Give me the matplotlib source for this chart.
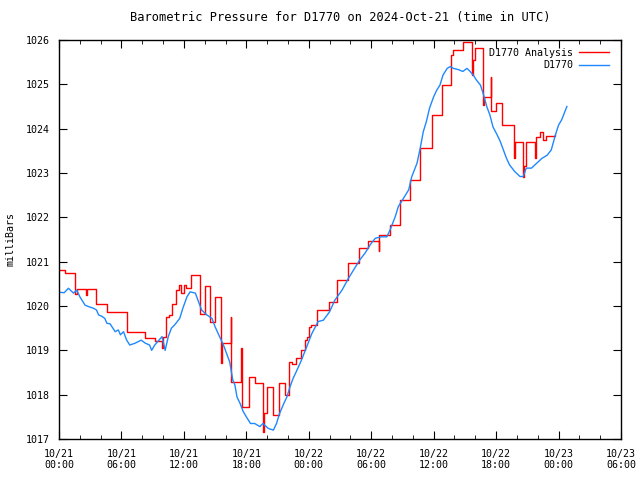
import matplotlib
matplotlib.use("Agg")
import matplotlib.pyplot as plt
import matplotlib.dates as mdates
import pandas as pd

start = pd.Timestamp("2024-10-21 00:00")

# observed station pressure (hours after start, mb)
obs_hours = [0.0, 0.5, 0.9, 1.4, 1.7, 2.0, 2.5, 2.8, 3.3, 3.6, 3.8, 4.1, 4.4, 4.6, 4.9,
             5.4, 5.7, 5.9, 6.2, 6.5, 6.8, 7.3, 7.9, 8.3, 8.7, 8.9, 9.2, 9.6, 9.9, 10.2,
             10.5, 10.8, 11.1, 11.6, 11.9, 12.3, 12.6, 13.1, 13.7, 14.2, 14.7, 15.0, 15.5,
             15.8, 16.1, 16.4, 16.7, 16.9, 17.1, 17.4, 17.7, 18.0, 18.4, 18.8, 19.3, 19.6,
             20.1, 20.6, 20.9, 21.2, 21.6, 21.9, 22.2, 22.5, 22.8, 23.3, 23.8, 24.3, 24.9,
             25.4, 26.0, 26.5, 27.2, 27.8, 28.4, 28.9, 29.4, 29.9, 30.4, 31.0, 31.5, 31.8,
             32.3, 32.6, 33.1, 33.6, 33.9, 34.4, 34.7, 35.0, 35.3, 35.6, 36.0, 36.3, 36.6,
             36.9, 37.3, 37.6, 37.9, 38.4, 38.8, 39.2, 39.5, 39.8, 40.1, 40.5, 40.8, 41.1,
             41.4, 41.7, 42.1, 42.4, 42.7, 43.0, 43.3, 43.8, 44.3, 44.6, 44.9, 45.4, 45.9,
             46.4, 46.9, 47.3, 47.7, 48.0, 48.3, 48.6, 48.8]
obs_mb = [1020.31, 1020.30, 1020.40, 1020.29, 1020.36, 1020.21, 1020.02, 1019.99, 1019.95,
          1019.91, 1019.80, 1019.77, 1019.72, 1019.61, 1019.60, 1019.42, 1019.46, 1019.35,
          1019.42, 1019.23, 1019.12, 1019.16, 1019.23, 1019.16, 1019.12, 1019.00, 1019.12,
          1019.23, 1019.31, 1019.00, 1019.31, 1019.50, 1019.57, 1019.72, 1019.95, 1020.21,
          1020.32, 1020.29, 1019.91, 1019.80, 1019.72, 1019.53, 1019.27, 1019.12, 1018.93,
          1018.74, 1018.33, 1018.22, 1017.95, 1017.80, 1017.62, 1017.50, 1017.35, 1017.35,
          1017.28, 1017.35, 1017.24, 1017.20, 1017.35, 1017.58, 1017.80, 1017.95, 1018.18,
          1018.37, 1018.52, 1018.78, 1019.08, 1019.38, 1019.65, 1019.68, 1019.87, 1020.13,
          1020.36, 1020.62, 1020.85, 1021.04, 1021.19, 1021.38, 1021.53, 1021.56, 1021.56,
          1021.71, 1022.01, 1022.24, 1022.43, 1022.62, 1022.92, 1023.22, 1023.55, 1023.93,
          1024.16, 1024.46, 1024.72, 1024.87, 1024.98, 1025.21, 1025.36, 1025.40, 1025.36,
          1025.33, 1025.29, 1025.36, 1025.29, 1025.21, 1025.10, 1024.98, 1024.76, 1024.50,
          1024.31, 1024.04, 1023.86, 1023.71, 1023.52, 1023.33, 1023.18, 1023.03, 1022.92,
          1022.92, 1023.11, 1023.11, 1023.22, 1023.33, 1023.40, 1023.52, 1023.86, 1024.08,
          1024.20, 1024.38, 1024.50]

# analysis values (step changes)
ana_hours = [0.0, 0.6, 1.5, 1.7, 2.6, 2.7, 3.6, 4.6, 6.5, 8.3, 9.2, 9.9, 10.0, 10.3, 10.6,
             10.9, 11.2, 11.5, 11.7, 12.0, 12.2, 12.7, 13.5, 14.0, 14.5, 15.0, 15.6, 15.7,
             16.5, 16.55, 17.5, 17.55, 18.3, 18.8, 19.6, 19.7, 20.0, 20.6, 21.1, 21.7, 22.1,
             22.4, 22.8, 23.3, 23.6, 23.8, 24.0, 24.2, 24.8, 25.9, 26.7, 27.8, 28.8, 29.7,
             30.7, 30.75, 31.8, 32.8, 33.7, 34.7, 35.8, 36.8, 37.7, 37.9, 38.8, 39.7, 39.8,
             40.0, 40.7, 40.8, 41.5, 41.55, 42.0, 42.6, 43.7, 43.8, 44.6, 44.7, 44.9, 45.7,
             45.8, 46.2, 46.5, 46.8, 47.7]
ana_mb = [1020.81, 1020.74, 1020.27, 1020.38, 1020.25, 1020.38, 1020.05, 1019.86, 1019.42,
          1019.28, 1019.22, 1019.05, 1019.30, 1019.75, 1019.80, 1020.05, 1020.35, 1020.48,
          1020.30, 1020.47, 1020.40, 1020.70, 1019.83, 1020.44, 1019.65, 1020.20, 1018.72,
          1019.16, 1019.76, 1018.29, 1019.05, 1017.73, 1018.40, 1018.27, 1017.16, 1017.58,
          1018.17, 1017.54, 1018.26, 1017.99, 1018.74, 1018.69, 1018.82, 1019.00, 1019.23,
          1019.31, 1019.53, 1019.57, 1019.91, 1020.10, 1020.59, 1020.96, 1021.30, 1021.47,
          1021.25, 1021.60, 1021.83, 1022.39, 1022.84, 1023.56, 1024.31, 1024.98, 1025.66,
          1025.77, 1025.96, 1025.20, 1025.55, 1025.83, 1024.53, 1024.72, 1025.17, 1024.40,
          1024.57, 1024.08, 1023.33, 1023.69, 1022.90, 1023.15, 1023.69, 1023.33, 1023.82,
          1023.93, 1023.75, 1023.83, 1023.86]

obs_t = [start + pd.Timedelta(hours=h) for h in obs_hours]
ana_t = [start + pd.Timedelta(hours=h) for h in ana_hours]

plt.rcParams["font.family"] = ["DejaVu Sans Mono"]
plt.rcParams["font.size"] = 7.2

fig = plt.figure(figsize=(6.4, 4.8), dpi=100)
ax = fig.add_axes([0.0922, 0.0854, 0.8781, 0.8313])

ax.plot(ana_t, ana_mb, color="#ff0000", lw=1, drawstyle="steps-post", label="D1770 Analysis")
ax.plot(obs_t, obs_mb, color="#1e88ff", lw=1, label="D1770")

ax.set_xlim(start, start + pd.Timedelta(hours=54))
ax.set_ylim(1017, 1026)
ax.set_yticks(range(1017, 1027))
ax.xaxis.set_major_locator(mdates.HourLocator(byhour=range(0, 24, 6)))
ax.xaxis.set_minor_locator(mdates.HourLocator(byhour=range(0, 24, 2)))
ax.xaxis.set_major_formatter(mdates.DateFormatter("%m/%d\n%H:%M"))
ax.tick_params(which="both", direction="in", top=True, right=True, pad=7)
ax.tick_params(which="major", length=6)
ax.tick_params(which="minor", length=3)
for s in ax.spines.values():
    s.set_linewidth(1)

ax.set_title("Barometric Pressure for D1770 on 2024-Oct-21 (time in UTC)", pad=14)
ax.set_ylabel("milliBars", va="center")
ax.yaxis.set_label_coords(-0.087, 0.5)
ax.legend(loc="upper right", bbox_to_anchor=(0.99, 0.995), frameon=False, markerfirst=False,
          handlelength=3, borderaxespad=0.2, labelspacing=0.25, handletextpad=0.6)

fig.savefig("out.png", dpi=100)
